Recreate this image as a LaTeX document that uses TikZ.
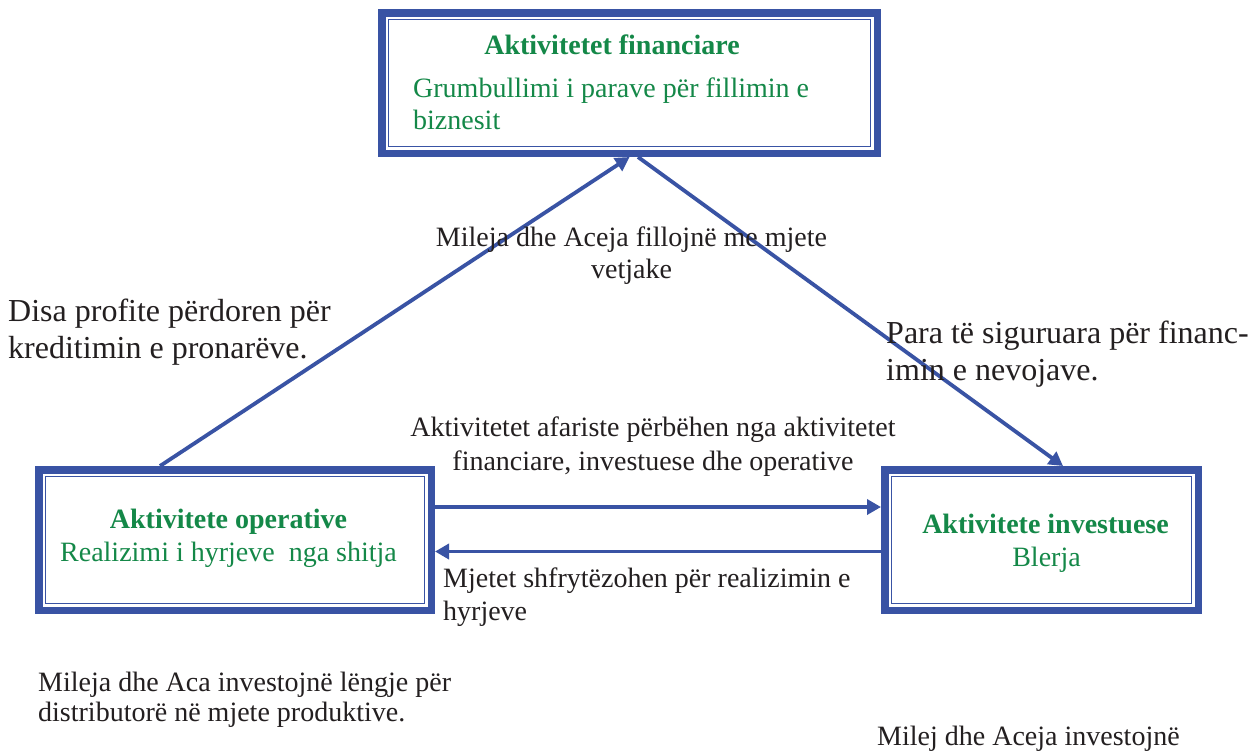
\documentclass[tikz,border=0pt]{standalone}
\usepackage{fontspec}
\setmainfont{Liberation Serif}
\usetikzlibrary{arrows.meta}
\definecolor{boxblue}{RGB}{57,83,164}
\definecolor{textgreen}{RGB}{20,136,72}
\definecolor{textblack}{RGB}{35,31,32}
\begin{document}
\begin{tikzpicture}[x=1pt,y=-1pt,
  actbox/.style={draw=boxblue, line width=7.5pt, fill=white, inner sep=0pt,
    minimum width=#1, minimum height=140.5pt},
  innerline/.style={draw=boxblue, line width=1.8pt},
  conn/.style={draw=boxblue, line width=3.8pt, -{Triangle[length=14pt,width=15pt]}},
  txt/.style={inner sep=0pt, text=textblack, font=\fontsize{28}{33}\selectfont},
  bigtxt/.style={inner sep=0pt, text=textblack, font=\fontsize{32}{37}\selectfont},
  gtxt/.style={inner sep=0pt, text=textgreen, font=\fontsize{28}{33}\selectfont},
  gbold/.style={inner sep=0pt, text=textgreen, font=\fontsize{28}{33}\selectfont\bfseries}]

\useasboundingbox[fill=white] (0,0) rectangle (1257,753);

% the three activity boxes
\node[actbox=495.5pt] (fin) at (629.5,83) {};
\node[actbox=392.5pt] (op) at (235,540) {};
\node[actbox=313.5pt] (inv) at (1041.5,540) {};
\foreach \b in {fin,op,inv}
  \draw[innerline] ([shift={(10.5pt,-10.5pt)}]\b.north west)
    rectangle ([shift={(-10.5pt,10.5pt)}]\b.south east);

% flows between the activities
\draw[conn] ([xshift=-75pt]op.north) -- (fin.south);
\draw[conn] ([xshift=8.5pt]fin.south) -- ([xshift=21.5pt]inv.north);
\draw[conn] ([yshift=33pt]op.east) -- ([yshift=33pt]inv.west);
\draw[conn] ([yshift=-11.5pt]inv.west) -- ([yshift=-11.5pt]op.east);

% box texts
\node[gbold, anchor=base] (finT) at (612,54) {Aktivitetet financiare};
\node[gtxt, anchor=base west] (finA) at (413,97) {Grumbullimi i parave për fillimin e};
\node[gtxt, anchor=base west] (finB) at (413,129.5) {biznesit};

\node[gbold, anchor=base] (opT) at (228.5,528.5) {Aktivitete operative};
\node[gtxt, anchor=base] (opA) at (228.5,561.5) {Realizimi i hyrjeve\ \ nga shitja};

\node[gbold, anchor=base] (invT) at (1045.5,533.5) {Aktivitete investuese};
\node[gtxt, anchor=base] (invA) at (1046.5,566.5) {Blerja};

% free texts
\node[txt, anchor=base] (t1a) at (631.5,246) {Mileja dhe Aceja fillojnë me mjete};
\node[txt, anchor=base] (t1b) at (631.5,278.5) {vetjake};

\node[bigtxt, anchor=base west] (t2a) at (8,321.5) {Disa profite përdoren për};
\node[bigtxt, anchor=base west] (t2b) at (8,358.5) {kreditimin e pronarëve.};

\node[bigtxt, anchor=base west] (t3a) at (886,343.5) {Para të siguruara për financ-};
\node[bigtxt, anchor=base west] (t3b) at (886,380) {imin e nevojave.};

\node[txt, anchor=base] (t4a) at (653,436) {Aktivitetet afariste përbëhen nga aktivitetet};
\node[txt, anchor=base] (t4b) at (653,470) {financiare, investuese dhe operative};

\node[txt, anchor=base west] (t5a) at (443,587) {Mjetet shfrytëzohen për realizimin e};
\node[txt, anchor=base west] (t5b) at (443,620.5) {hyrjeve};

\node[txt, anchor=base west] (t6a) at (38,691.5) {Mileja dhe Aca investojnë lëngje për};
\node[txt, anchor=base west] (t6b) at (38,721.5) {distributorë në mjete produktive.};

\node[txt, anchor=base west] (t7) at (877,745) {Milej dhe Aceja investojnë};
\end{tikzpicture}
\end{document}
